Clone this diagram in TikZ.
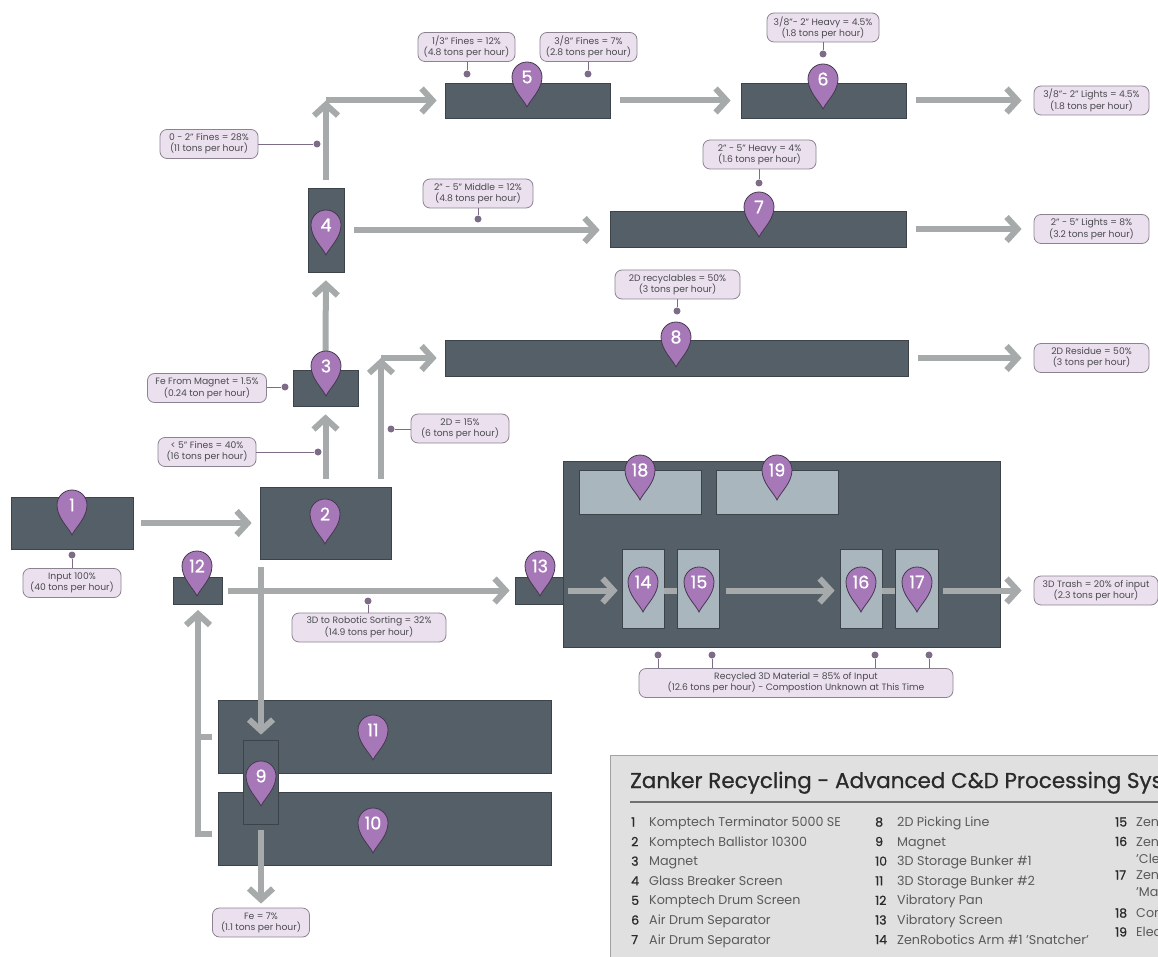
\documentclass[tikz,border=0pt]{standalone}
\usepackage{fontspec}
\setmainfont{Poppins}
\newfontfamily\heavyfont[FakeBold=0.8]{Poppins}
\usetikzlibrary{arrows.meta}
\newcommand{\pinmark}[3]{%
 \path [pinshape,shift={(#2)}] (0,30) .. controls (-3,23) and (-15,13) .. (-15,0) arc (180:360:15) .. controls (15,13) and (3,23) .. (0,30) -- cycle;
 \node (pin#3) [pinnum] at (#2) {#3};}
\tikzset{
 unit/.style 2 args={draw=unitline,fill=unitcolor,line width=0.7pt,minimum width=#1,minimum height=#2,inner sep=0pt},
 robot/.style 2 args={unit={#1}{#2},fill=robotcolor},
 flow/.style={draw=flowcolor,line width=6pt,-{Straight Barb[length=11pt,width=24pt]},shorten <=8pt,shorten >=8pt},
 link/.style={draw=flowcolor,line width=6pt},
 tag/.style={draw=tagline,fill=tagcolor,line width=0.8pt,rounded corners=7pt,align=center,text=textcolor,inner sep=0pt,minimum width=#1,minimum height=29pt,font=\fontsize{9.2}{11}\selectfont},
 tapdot/.style={circle,fill=dotcolor,minimum size=7pt,inner sep=0pt},
 stem/.style={draw=dotcolor,line width=0.8pt},
 pinshape/.style={draw=pinline,fill=pincolor,line width=0.8pt},
 pinnum/.style={text=white,inner sep=0pt,font=\fontsize{17.5}{17.5}\heavyfont},
 legnum/.style={anchor=base west,inner sep=0pt,text=titlecolor,font=\fontsize{12.5}{14}\heavyfont},
 legtext/.style={anchor=base west,inner sep=0pt,text=legendcolor,font=\fontsize{12.7}{14}\selectfont},
}
\begin{document}
\begin{tikzpicture}[x=1pt,y=-1pt]
 \definecolor{unitcolor}{HTML}{555F67}
 \definecolor{unitline}{HTML}{3C4349}
 \definecolor{robotcolor}{HTML}{A9B6BE}
 \definecolor{flowcolor}{HTML}{A6AAAA}
 \definecolor{tagcolor}{HTML}{EBE1EE}
 \definecolor{tagline}{HTML}{8C8391}
 \definecolor{dotcolor}{HTML}{7D6C88}
 \definecolor{pincolor}{HTML}{A678B8}
 \definecolor{pinline}{HTML}{45394F}
 \definecolor{textcolor}{HTML}{4A4A4E}
 \definecolor{panelcolor}{HTML}{E0E0E0}
 \definecolor{panelline}{HTML}{A2A2A2}
 \definecolor{titlecolor}{HTML}{2A2A2A}
 \definecolor{legendcolor}{HTML}{5A5A5A}
 \useasboundingbox (0,0) rectangle (1158,957);
 \clip (0,0) rectangle (1158,957);

 \node (box1) [unit={122pt}{52pt}] at (72,523) {};
 \node (box2) [unit={131pt}{72pt}] at (325.5,523) {};
 \node (box3) [unit={65pt}{36pt}] at (325.5,388) {};
 \node (box4) [unit={36pt}{84pt}] at (326,230) {};
 \node (box5) [unit={165pt}{35pt}] at (527.5,100.5) {};
 \node (box6) [unit={165pt}{35pt}] at (823.5,100.5) {};
 \node (box7) [unit={296pt}{36pt}] at (758,229) {};
 \node (box8) [unit={463pt}{36pt}] at (676.5,358) {};
 \node (box11) [unit={333pt}{73pt}] at (384.5,736.5) {};
 \node (box10) [unit={333pt}{73pt}] at (384.5,828.5) {};
 \node (box9) [unit={35pt}{84pt}] at (261,782) {};
 \node (box12) [unit={49pt}{27pt}] at (197.5,590.5) {};
 \node (box13) [unit={48pt}{27pt}] at (539,590.5) {};
 \node (hall) [unit={437pt}{186pt}] at (781.5,554) {};
 \node (box18) [robot={122pt}{44pt}] at (640,492) {};
 \node (box19) [robot={122pt}{44pt}] at (777,492) {};
 \node (box14) [robot={42pt}{79pt}] at (643,588.5) {};
 \node (box15) [robot={42pt}{79pt}] at (698,588.5) {};
 \node (box16) [robot={42pt}{79pt}] at (861,588.5) {};
 \node (box17) [robot={43pt}{79pt}] at (916.5,588.5) {};

 \node (tagin) [tag=98pt] at (72,583) {Input 100\%\\(40 tons per hour)};
 \node (tagfinesa) [tag=97pt] at (466.5,47) {1/3" Fines = 12\%\\(4.8 tons per hour)};
 \node (tagfinesb) [tag=97pt] at (588.5,47) {3/8" Fines = 7\%\\(2.8 tons per hour)};
 \node (tagheavya) [tag=112pt] at (823,27.5) {3/8"- 2" Heavy = 4.5\%\\(1.8 tons per hour)};
 \node (tagfines) [tag=98pt] at (209,144) {0 - 2" Fines = 28\%\\(11 tons per hour)};
 \node (tagmiddle) [tag=110pt] at (478,193.5) {2" - 5" Middle = 12\%\\(4.8 tons per hour)};
 \node (tagheavyb) [tag=113pt] at (759.5,154.5) {2" - 5" Heavy = 4\%\\(1.6 tons per hour)};
 \node (tagrecyc) [tag=125pt] at (677.5,284.5) {2D recyclables = 50\%\\(3 tons per hour)};
 \node (tagmagnet) [tag=119pt] at (207,388) {Fe From Magnet = 1.5\%\\(0.24 ton per hour)};
 \node (tagsmall) [tag=98pt] at (207,452) {< 5" Fines = 40\%\\(16 tons per hour)};
 \node (tagtwod) [tag=98pt] at (460,428.5) {2D = 15\%\\(6 tons per hour)};
 \node (tagrobot) [tag=154pt] at (369,627.5) {3D to Robotic Sorting = 32\%\\(14.9 tons per hour)};
 \node (tagrecycled) [tag=314pt] at (796,683) {Recycled 3D Material = 85\% of Input\\(12.6 tons per hour) - Compostion Unknown at This Time};
 \node (tagfe) [tag=97pt] at (261,922.5) {Fe = 7\%\\(1.1 tons per hour)};
 \node (taglighta) [tag=115pt] at (1091.5,100.5) {3/8"- 2" Lights = 4.5\%\\(1.8 tons per hour)};
 \node (taglightb) [tag=115pt] at (1091.5,229) {2" - 5" Lights = 8\%\\(3.2 tons per hour)};
 \node (tagresidue) [tag=115pt] at (1091.5,358) {2D Residue = 50\%\\(3 tons per hour)};
 \node (tagtrash) [tag=124pt] at (1096,590.5) {3D Trash = 20\% of input\\(2.3 tons per hour)};

 \coordinate (twodstart) at (381,487);
 \coordinate (twodbend) at (381,358);
 \coordinate (finesbend) at (326,100.5);
 \coordinate (downstart) at (261,559);
 \coordinate (pantop) at (198,604);
 \coordinate (panfoot) at (198,736.5);
 \coordinate (bunkfoot) at (198,834);
 \coordinate (bunkb) at (212,834);
 \coordinate (bunka) at (212,736.5);

 \draw [flow] (box1) -- (box2);
 \draw [flow] (box2) -- (box3);
 \draw [flow] (box3) -- (box4);
 \draw [flow,shorten >=0pt] (box4.north) -- (finesbend);
 \draw [flow,shorten <=0pt] (finesbend) -- (box5.west);
 \draw [flow,shorten <=10pt,shorten >=10pt] (box4.east) -- (box4.east -| box7.west);
 \draw [flow,shorten >=0pt] (twodstart) -- (twodbend);
 \draw [flow,shorten <=0pt] (twodbend) -- (box8.west);
 \draw [flow,shorten <=10pt,shorten >=10pt] (box5.east) -- (box6.west);
 \draw [flow,shorten <=10pt,shorten >=12pt] (box6.east) -- (taglighta.west);
 \draw [flow,shorten <=10pt,shorten >=12pt] (box7.east) -- (taglightb.west);
 \draw [flow,shorten <=10pt,shorten >=12pt] (box8.east) -- (tagresidue.west);
 \draw [flow,shorten >=5pt] (downstart) -- (box9.north);
 \draw [flow,shorten <=6pt,shorten >=4pt] (box9.south) -- (tagfe.north);
 \draw [link] (bunka) -- (panfoot);
 \draw [link] (bunkb) -- (bunkfoot) -- (panfoot);
 \draw [flow,shorten <=0pt,shorten >=6pt] (panfoot) -- (pantop);
 \draw [flow,shorten <=6pt,shorten >=5pt] (box12) -- (box13);
 \draw [flow,shorten <=5pt,shorten >=4pt] (box13.east) -- (box13.east -| box14.west);
 \draw [link] (box14.east |- box13) -- (box15.west |- box13);
 \draw [flow,shorten <=7pt,shorten >=5pt] (box15.east |- box13) -- (box16.west |- box13);
 \draw [link] (box16.east |- box13) -- (box17.west |- box13);
 \draw [flow,shorten <=5pt,shorten >=12pt] (box17.east |- tagtrash) -- (tagtrash.west);

 \node (dotin) [tapdot] at (72,555) {};
 \node (dotfinesa) [tapdot] at (467,74) {};
 \node (dotfinesb) [tapdot] at (588,74) {};
 \node (dotheavya) [tapdot] at (823,54) {};
 \node (dotfines) [tapdot] at (317,144) {};
 \node (dotmiddle) [tapdot] at (478,219) {};
 \node (dotheavyb) [tapdot] at (759,183) {};
 \node (dotrecyc) [tapdot] at (677,311) {};
 \node (dotmagnet) [tapdot] at (285,387) {};
 \node (dotsmall) [tapdot] at (318,452) {};
 \node (dottwod) [tapdot] at (391,429) {};
 \node (dotrobot) [tapdot] at (368,601) {};
 \node (dota) [tapdot] at (658,655) {};
 \node (dotb) [tapdot] at (712,655) {};
 \node (dotc) [tapdot] at (875,655) {};
 \node (dotd) [tapdot] at (929,655) {};
 \foreach \d/\t in {dotin/tagin.north,dotfinesa/tagfinesa.south,dotfinesb/tagfinesb.south,dotheavya/tagheavya.south,dotmiddle/tagmiddle.south,dotheavyb/tagheavyb.south,dotrecyc/tagrecyc.south,dotrobot/tagrobot.north,dota/tagrecycled.north,dotb/tagrecycled.north,dotc/tagrecycled.north,dotd/tagrecycled.north}
  \draw [stem] (\d) -- (\d |- \t);
 \foreach \d/\t in {dotfines/tagfines.east,dotmagnet/tagmagnet.east,dotsmall/tagsmall.east,dottwod/tagtwod.west}
  \draw [stem] (\d) -- (\d -| \t);

 \pinmark{pina}{72,505}{1}
 \pinmark{pinb}{325,514}{2}
 \pinmark{pinc}{326,366}{3}
 \pinmark{pind}{326,225}{4}
 \pinmark{pine}{527,77}{5}
 \pinmark{pinf}{823,79}{6}
 \pinmark{ping}{759,207}{7}
 \pinmark{pinh}{676,337}{8}
 \pinmark{pini}{261,776}{9}
 \pinmark{pinj}{373,823}{10}
 \pinmark{pink}{373,730}{11}
 \pinmark{pinl}{197,566}{12}
 \pinmark{pinm}{540,566}{13}
 \pinmark{pinn}{643,582}{14}
 \pinmark{pino}{699,582}{15}
 \pinmark{pinp}{861,582}{16}
 \pinmark{pinq}{917,582}{17}
 \pinmark{pinr}{640,470}{18}
 \pinmark{pins}{777,470}{19}

 \node (panel) [draw=panelline,fill=panelcolor,line width=1pt,minimum width=580pt,minimum height=230pt,anchor=north west,inner sep=0pt] at (610,755) {};
 \node (title) [anchor=base west,inner sep=0pt,text=titlecolor,font=\fontsize{21.5}{24}\heavyfont] at (630,788) {Zanker Recycling - Advanced C\&D Processing Sys};
 \coordinate (ruleend) at (1158,802);
 \coordinate (rulestart) at (630,802);
 \draw [panelline!70!black,line width=1.2pt] (rulestart) -- (ruleend);

 \foreach \n/\txt [evaluate=\n as \ypos using 826.5+19.6*(\n-1)] in {1/Komptech Terminator 5000 SE,2/Komptech Ballistor 10300,3/Magnet,4/Glass Breaker Screen,5/Komptech Drum Screen,6/Air Drum Separator,7/Air Drum Separator} {
  \node (legnum\n) [legnum] at (631,\ypos) {\n};
  \node (legtext\n) [legtext] at (649,\ypos) {\txt};
 }
 \foreach \n/\txt [evaluate=\n as \ypos using 826.5+19.6*(\n-8)] in {8/2D Picking Line,9/Magnet,10/3D Storage Bunker \#1,11/3D Storage Bunker \#2,12/Vibratory Pan,13/Vibratory Screen,14/ZenRobotics Arm \#1 'Snatcher'} {
  \node (legnum\n) [legnum] at (875,\ypos) {\n};
  \node (legtext\n) [legtext] at (897,\ypos) {\txt};
 }
 \foreach \n/\ypos/\txt in {15/826.5/Zen,16/846/Zen,17/879.5/Zen,18/917.5/Con,19/936.5/Elec} {
  \node (legnum\n) [legnum] at (1115,\ypos) {\n};
  \node (legtext\n) [legtext] at (1136,\ypos) {\txt};
 }
 \node (legmorea) [legtext] at (1136,863) {'Cle};
 \node (legmoreb) [legtext] at (1136,896) {'Ma};
\end{tikzpicture}
\end{document}
